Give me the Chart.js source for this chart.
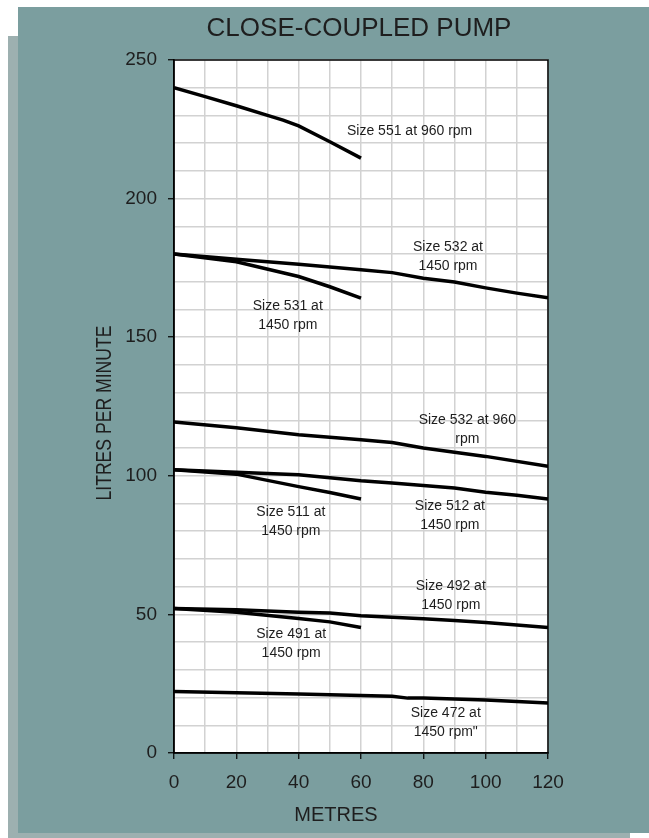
<!DOCTYPE html>
<html>
<head>
<meta charset="utf-8">
<script src="https://cdn.jsdelivr.net/npm/chart.js@4.4.1/dist/chart.umd.min.js"></script>
<style>
html,body{margin:0;padding:0;background:#fff;}
#c{display:block;}
</style>
</head>
<body>
<canvas id="c" width="649" height="838" style="width:649px;height:838px"></canvas>
<script>
// ---- data (head in metres, flow in litres per minute) ----
const xTicksMajor = [0, 20, 40, 60, 80, 100, 120];
const yTicksMajor = [0, 50, 100, 150, 200, 250];

const head551_960 = [0, 10, 20, 30, 35, 40, 50, 60];
const flow551_960 = [240, 236.8, 233.5, 230, 228.3, 226.2, 220.5, 214.6];

const head532_1450 = [0, 20, 40, 60, 70, 80, 90, 100, 110, 120];
const flow532_1450 = [180, 178.1, 176.3, 174.3, 173.3, 171.3, 169.9, 167.8, 165.9, 164.2];

const head531_1450 = [0, 20, 40, 50, 60];
const flow531_1450 = [180, 177.2, 171.9, 168.2, 164.1];

const head532_960 = [0, 20, 40, 60, 70, 80, 90, 100, 120];
const flow532_960 = [119.4, 117.3, 114.8, 113, 112, 110, 108.5, 107, 103.4];

const head512_1450 = [0, 20, 40, 60, 70, 80, 90, 100, 110, 120];
const flow512_1450 = [102.2, 101.3, 100.4, 98.2, 97.4, 96.5, 95.6, 94.1, 93, 91.6];

const head511_1450 = [0, 20, 40, 50, 60];
const flow511_1450 = [102.2, 100.6, 96.1, 94, 91.6];

const head492_1450 = [0, 20, 40, 50, 60, 70, 80, 90, 100, 120];
const flow492_1450 = [52.1, 51.7, 50.8, 50.5, 49.5, 49, 48.4, 47.8, 47.1, 45.3];

const head491_1450 = [0, 20, 40, 50, 60];
const flow491_1450 = [52.1, 50.8, 48.5, 47.3, 45.3];

const head472_1450 = [0, 20, 40, 60, 70, 75, 80, 90, 100, 110, 120];
const flow472_1450 = [22.2, 21.7, 21.3, 20.7, 20.5, 19.8, 19.8, 19.5, 19.1, 18.6, 18.0];

const seriesNames = ['Size 551 at 960 rpm','Size 532 at 1450 rpm','Size 531 at 1450 rpm','Size 532 at 960 rpm','Size 512 at 1450 rpm','Size 511 at 1450 rpm','Size 492 at 1450 rpm','Size 491 at 1450 rpm','Size 472 at 1450 rpm'];
const seriesHeads = [head551_960, head532_1450, head531_1450, head532_960, head512_1450, head511_1450, head492_1450, head491_1450, head472_1450];
const seriesFlows = [flow551_960, flow532_1450, flow531_1450, flow532_960, flow512_1450, flow511_1450, flow492_1450, flow491_1450, flow472_1450];

// curve labels (text lines) and their anchor in chart units
const labelLines = [
  ['Size 551 at 960 rpm'],
  ['Size 532 at', '1450 rpm'],
  ['Size 531 at', '1450 rpm'],
  ['Size 532 at 960', 'rpm'],
  ['Size 512 at', '1450 rpm'],
  ['Size 511 at', '1450 rpm'],
  ['Size 492 at', '1450 rpm'],
  ['Size 491 at', '1450 rpm'],
  ['Size 472 at', '1450 rpm"']
];
const labelX = [75.6, 87.9, 36.5, 94.1, 88.5, 37.5, 88.8, 37.6, 87.2];
const labelY = [224.4, 182.5, 161.1, 120.0, 88.9, 86.8, 60.1, 42.9, 14.2];

const chartTitle = 'CLOSE-COUPLED PUMP';
const xTitle = 'METRES';
const yTitle = 'LITRES PER MINUTE';

// ---- build datasets ----
const datasets = seriesNames.map((name, i) => ({
  label: name,
  data: seriesHeads[i].map((h, j) => ({x: h, y: seriesFlows[i][j]})),
  borderColor: '#000',
  backgroundColor: '#000',
  borderWidth: 3.5,
  pointRadius: 0,
  tension: 0,
  fill: false
}));

const FONT = '"Liberation Sans", Arial, Helvetica, sans-serif';
const TEAL = '#7b9e9f';
const SHADOW = '#9db0b0';
const TEXT = '#1e1e1e';

const backdrop = {
  id: 'backdrop',
  beforeDraw(chart) {
    const ctx = chart.ctx;
    const a = chart.chartArea;
    ctx.save();
    ctx.fillStyle = '#ffffff';
    ctx.fillRect(0, 0, chart.width, chart.height);
    ctx.fillStyle = SHADOW;
    ctx.fillRect(8, 36, 622, 802);
    ctx.fillStyle = TEAL;
    ctx.fillRect(18, 7, 631, 826);
    ctx.fillStyle = '#ffffff';
    ctx.fillRect(a.left, a.top, a.right - a.left, a.bottom - a.top);
    ctx.restore();
  },
  afterDraw(chart) {
    const ctx = chart.ctx;
    const xs = chart.scales.x, ys = chart.scales.y;
    const a = chart.chartArea;
    ctx.save();
    ctx.fillStyle = TEXT;
    // title
    ctx.font = '26px ' + FONT;
    ctx.textAlign = 'center';
    ctx.textBaseline = 'middle';
    ctx.fillText(chartTitle, 359, 29);
    // x title
    ctx.font = '20px ' + FONT;
    ctx.fillText(xTitle, 336, 815);
    // y title (rotated, condensed)
    ctx.save();
    ctx.translate(104, 413);
    ctx.rotate(-Math.PI / 2);
    ctx.scale(0.8, 1);
    ctx.font = '22px ' + FONT;
    ctx.fillText(yTitle, 0, 1);
    ctx.restore();
    // curve labels
    ctx.font = '14px ' + FONT;
    labelLines.forEach((lines, i) => {
      const px = xs.getPixelForValue(labelX[i]);
      const py = ys.getPixelForValue(labelY[i]);
      lines.forEach((t, k) => ctx.fillText(t, px, py + k * 19));
    });
    // frame
    ctx.strokeStyle = '#000';
    ctx.lineWidth = 1.5;
    ctx.strokeRect(a.left, a.top, a.right - a.left, a.bottom - a.top);
    ctx.restore();
  }
};

new Chart(document.getElementById('c'), {
  type: 'line',
  data: { datasets },
  plugins: [backdrop],
  options: {
    responsive: false,
    animation: false,
    devicePixelRatio: 1,
    layout: { padding: { left: 0, top: 60, right: 101, bottom: 0 } },
    plugins: { legend: { display: false }, tooltip: { enabled: false }, title: { display: false } },
    scales: {
      x: {
        type: 'linear',
        min: 0, max: 120,
        afterFit(s) { s.height = 85; },
        border: { display: true, color: '#000', width: 1.5 },
        grid: {
          color: '#d2d2d2',
          lineWidth: 1.5,
          tickLength: 6,
          tickColor: c => (xTicksMajor.includes(c.tick && c.tick.value) ? '#000' : 'rgba(0,0,0,0)'),
          tickWidth: 1.2
        },
        ticks: {
          stepSize: 10,
          autoSkip: false,
          maxRotation: 0,
          padding: 12,
          color: TEXT,
          font: { family: FONT, size: 19 },
          callback: v => (xTicksMajor.includes(v) ? String(v) : '')
        }
      },
      y: {
        type: 'linear',
        min: 0, max: 250,
        afterFit(s) { s.width = 174; },
        border: { display: true, color: '#000', width: 1.5 },
        grid: {
          color: '#d2d2d2',
          lineWidth: 1.5,
          tickLength: 6,
          tickColor: c => (yTicksMajor.includes(c.tick && c.tick.value) ? '#000' : 'rgba(0,0,0,0)'),
          tickWidth: 1.2
        },
        ticks: {
          stepSize: 10,
          autoSkip: false,
          padding: 11,
          color: TEXT,
          font: { family: FONT, size: 19 },
          callback: v => (yTicksMajor.includes(v) ? String(v) : '')
        }
      }
    }
  }
});
</script>
</body>
</html>
